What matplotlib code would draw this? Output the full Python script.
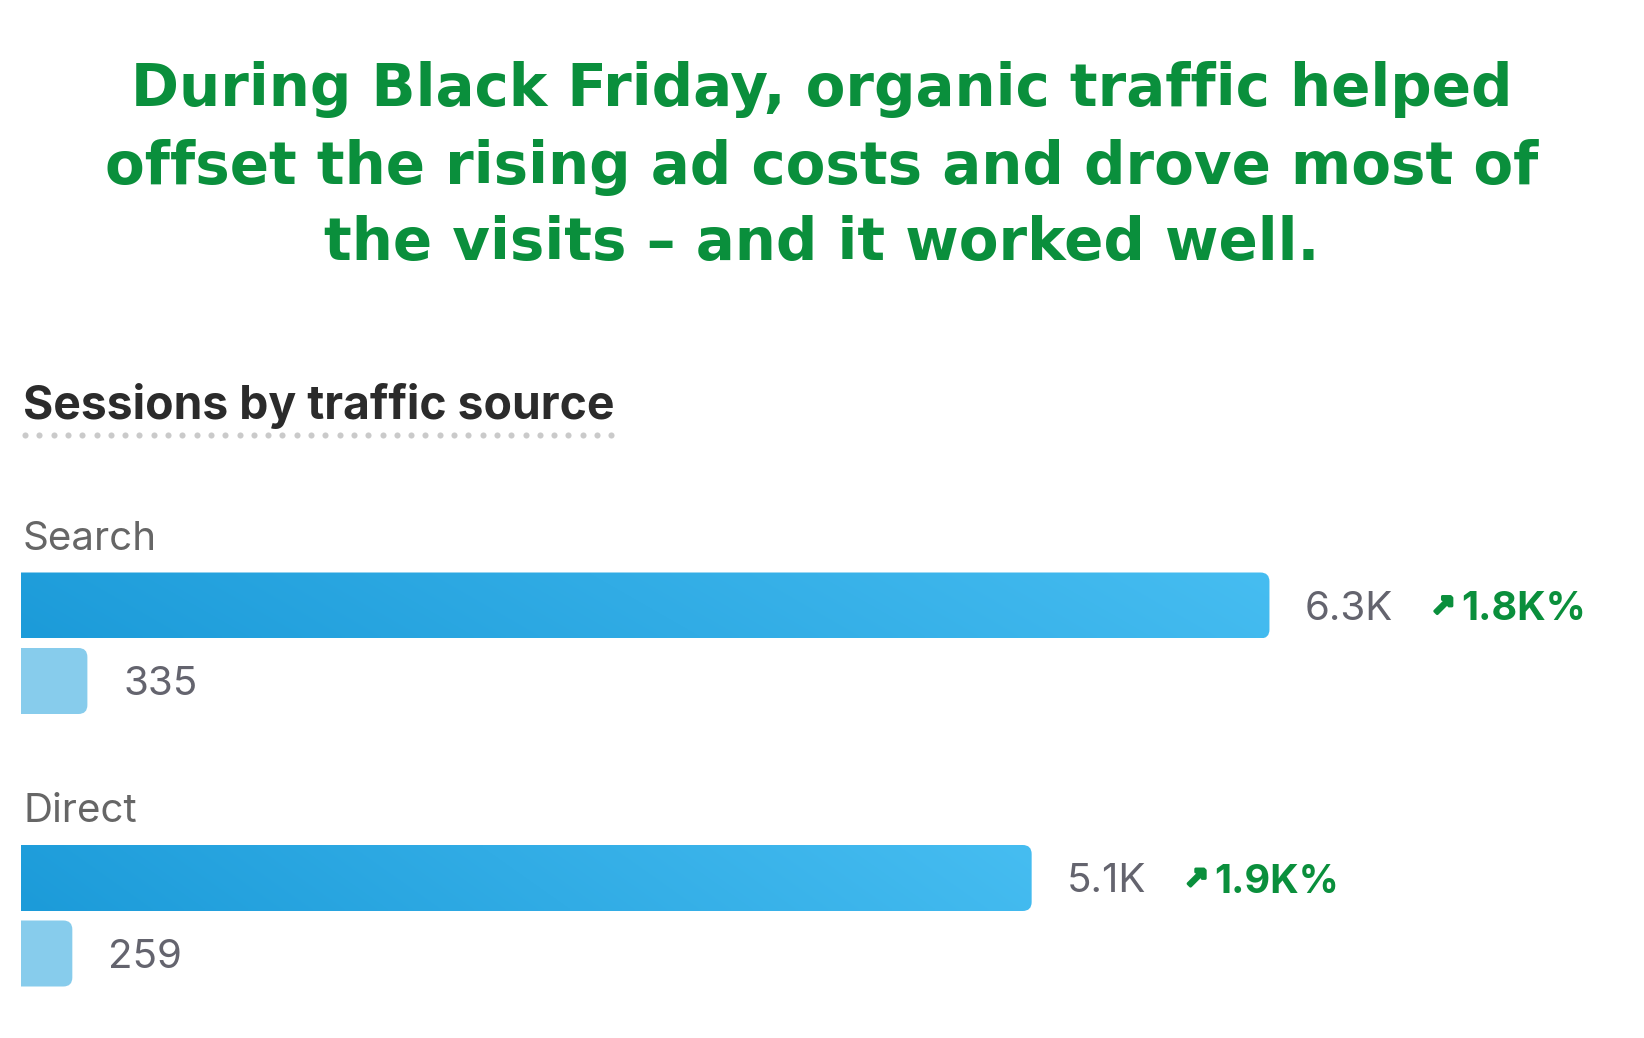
import matplotlib
matplotlib.use("Agg")
import matplotlib.pyplot as plt
import numpy as np
from matplotlib.patches import FancyBboxPatch
from matplotlib.transforms import offset_copy
from matplotlib.colors import to_rgb
import matplotlib.patheffects as pe

# ---------------- data ----------------
title_lines = ["During Black Friday, organic traffic helped",
               "offset the rising ad costs and drove most of",
               "the visits \u2013 and it worked well."]
subtitle = "Sessions by traffic source"
categories = ["Search", "Direct"]
current = [6300, 5100]
previous = [335, 259]
current_labels = ["6.3K", "5.1K"]
previous_labels = ["335", "259"]
change_labels = ["1.8K%", "1.9K%"]

# ---------------- layout ----------------
W, H = 1644, 1038
DPI = 100
fig = plt.figure(figsize=(W / DPI, H / DPI), dpi=DPI)
fig.patch.set_facecolor("white")

GREEN = "#0a8f3c"
TEXT_GRAY = "#64646e"
LABEL_GRAY = "#666666"
UI_FONT = ["Inter", "DejaVu Sans"]

# title
title_baselines = [106, 184, 260]
for line, yb in zip(title_lines, title_baselines):
    fig.text(822 / W, 1 - yb / H, line, ha="center", va="baseline",
             fontsize=41.7, fontweight="bold", color=GREEN,
             family=["DejaVu Sans"])

# subtitle
st = fig.text(23 / W, 1 - 419 / H, subtitle, ha="left", va="baseline",
              fontsize=33.3, fontweight="bold", color="#2b2b2b",
              family=UI_FONT)
fig.canvas.draw()
bb = st.get_window_extent(fig.canvas.get_renderer())
dot_x = np.arange(25, bb.x1, 14.3)
fig.lines.append(plt.Line2D(dot_x / W, np.full_like(dot_x, 1 - 435 / H),
                            transform=fig.transFigure, ls="none",
                            marker="o", ms=4.4, mew=0, mfc="#cacaca"))

# bars axes: x data -> sessions, y data -> pixels from top
AX_LEFT = 21
XMAX = 8190
ax = fig.add_axes([AX_LEFT / W, 0, (W - AX_LEFT) / W, 1])
ax.axis("off")
px_per_x = (W - AX_LEFT) / XMAX
aspect = px_per_x  # y units (px) per x unit

ROW0 = 605.5
ROW_STEP = 272.5
BAR_H = 66
SMALL_OFF = 75.5
LABEL_OFF = -66
RAD_PX = 9
rad_x = RAD_PX / px_per_x
TXT_DY = -3.5  # nudge value labels down (dots)

c_left = np.array(to_rgb("#1c9bd9"))
c_right = np.array(to_rgb("#46bdf1"))
SMALL_COLOR = "#87ccec"


def bar(value, yc, gradient):
    patch = FancyBboxPatch((-rad_x, yc - BAR_H / 2), value + rad_x, BAR_H,
                           boxstyle=f"round,pad=0,rounding_size={rad_x}",
                           mutation_aspect=aspect,
                           fc=SMALL_COLOR if not gradient else "none",
                           ec="none", lw=0)
    ax.add_patch(patch)
    if gradient:
        nx, ny = 256, 16
        xs = np.linspace(0, 1, nx)[None, :]
        ys = np.linspace(0, 1, ny)[:, None]
        t = np.clip(0.92 * xs + 0.08 * (1 - ys), 0, 1)
        img = c_left[None, None, :] + (c_right - c_left)[None, None, :] * t[:, :, None]
        im = ax.imshow(img, extent=[0, value, yc + BAR_H / 2, yc - BAR_H / 2],
                       aspect="auto", interpolation="bilinear", zorder=1)
        im.set_clip_path(patch)


def off(dx, dy=0.0):
    return offset_copy(ax.transData, fig=fig, x=dx, y=dy, units="dots")


for i, cat in enumerate(categories):
    yc = ROW0 + i * ROW_STEP
    ys = yc + SMALL_OFF
    ax.text(0, yc + LABEL_OFF, cat, transform=off(2), ha="left", va="center",
            fontsize=29, color=LABEL_GRAY, family=UI_FONT)
    bar(current[i], yc, True)
    bar(previous[i], ys, False)
    vt = ax.text(current[i], yc, current_labels[i], transform=off(35, TXT_DY),
                 ha="left", va="center", fontsize=29, color=TEXT_GRAY,
                 family=UI_FONT)
    ax.text(previous[i], ys, previous_labels[i], transform=off(36, TXT_DY),
            ha="left", va="center", fontsize=29, color=TEXT_GRAY,
            family=UI_FONT)
    ax.set_xlim(0, XMAX)
    ax.set_ylim(H, 0)
    fig.canvas.draw()
    vb = vt.get_window_extent(fig.canvas.get_renderer())
    vend = vb.x1 - ax.transData.transform((current[i], 0))[0]
    at = ax.text(current[i], yc, "\u2197", transform=off(vend + 38, -2),
                 ha="left", va="center", fontsize=21, fontweight="bold",
                 color=GREEN, family=["DejaVu Sans"],
                 path_effects=[pe.withStroke(linewidth=2.2, foreground=GREEN)])
    fig.canvas.draw()
    ab = at.get_window_extent(fig.canvas.get_renderer())
    aend = ab.x1 - ax.transData.transform((current[i], 0))[0]
    ax.text(current[i], yc, change_labels[i], transform=off(aend + 6, TXT_DY - 1),
            ha="left", va="center", fontsize=28.5, fontweight="bold",
            color=GREEN, family=UI_FONT)

ax.set_xlim(0, XMAX)
ax.set_ylim(H, 0)

fig.savefig("out.png", dpi=DPI, facecolor="white")
